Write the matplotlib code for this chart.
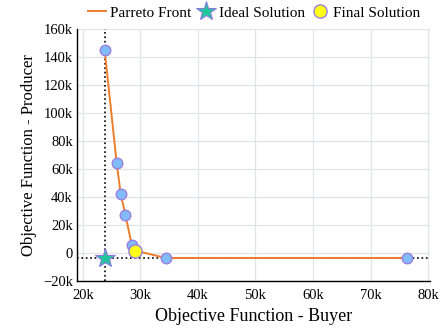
import matplotlib.pyplot as plt
from matplotlib.ticker import FuncFormatter

# Pareto front points (buyer, producer)
buyer = [23800, 25900, 26600, 27400, 28500, 29100, 34400, 76400]
producer = [145000, 64000, 42000, 27500, 6000, 1800, -3500, -3500]

# ideal and final solutions
ideal_x, ideal_y = 23800, -3500
final_x, final_y = 29100, 1800

x_ticks = [20000, 30000, 40000, 50000, 60000, 70000, 80000]
y_ticks = [-20000, 0, 20000, 40000, 60000, 80000, 100000, 120000, 140000, 160000]

plt.rcParams["font.family"] = ["Liberation Serif", "DejaVu Serif"]

fig = plt.figure(figsize=(4.4, 3.28), dpi=100)
ax = fig.add_axes([0.175, 0.143, 0.802, 0.769])

ax.axvline(ideal_x, color="black", linestyle=":", linewidth=1.2, zorder=2)
ax.axhline(ideal_y, color="black", linestyle=":", linewidth=1.2, zorder=2)

ax.plot(buyer, producer, color="#ee7d2c", linewidth=1.4, zorder=3, label="Parreto Front")
ax.plot(buyer, producer, linestyle="none", marker="o", markersize=7.6,
        markerfacecolor="#80bcf8", markeredgecolor="#9b7fe0", markeredgewidth=1.0, zorder=4)
ax.plot([ideal_x], [ideal_y], linestyle="none", marker="*", markersize=15,
        markerfacecolor="#1fc79a", markeredgecolor="#8a7ae0", markeredgewidth=0.8,
        zorder=5, label="Ideal Solution")
ax.plot([final_x], [final_y], linestyle="none", marker="o", markersize=9.5,
        markerfacecolor="#ffff1a", markeredgecolor="#9b7fe0", markeredgewidth=1.0,
        zorder=5, label="Final Solution")

ax.set_xlim(19000, 80300)
ax.set_ylim(-20000, 160000)
ax.set_xticks(x_ticks)
ax.set_yticks(y_ticks)

fmt = FuncFormatter(lambda v, p: "0" if v == 0 else f"{v / 1000:.0f}k".replace("-", "\u2212"))
ax.xaxis.set_major_formatter(fmt)
ax.yaxis.set_major_formatter(fmt)
ax.tick_params(length=0, labelsize=10.5)
ax.tick_params(axis="x", pad=6)
ax.tick_params(axis="y", pad=3)

ax.grid(True, color="#e2e5e8", linewidth=0.9)
ax.set_axisbelow(True)
for s in ["top", "right"]:
    ax.spines[s].set_visible(False)
for s in ["left", "bottom"]:
    ax.spines[s].set_color("black")
    ax.spines[s].set_linewidth(1.0)

ax.set_xlabel("Objective Function - Buyer", fontsize=13, labelpad=4)
ax.set_ylabel("Objective Function - Producer", fontsize=12, labelpad=4)

ax.legend(loc="center", bbox_to_anchor=(254 / 440, 1 - 12.7 / 328),
          bbox_transform=fig.transFigure, ncol=3, frameon=False,
          fontsize=11, handlelength=1.2, handletextpad=0.25, columnspacing=0.35,
          borderaxespad=0, borderpad=0)

fig.savefig("out.png", dpi=100)
